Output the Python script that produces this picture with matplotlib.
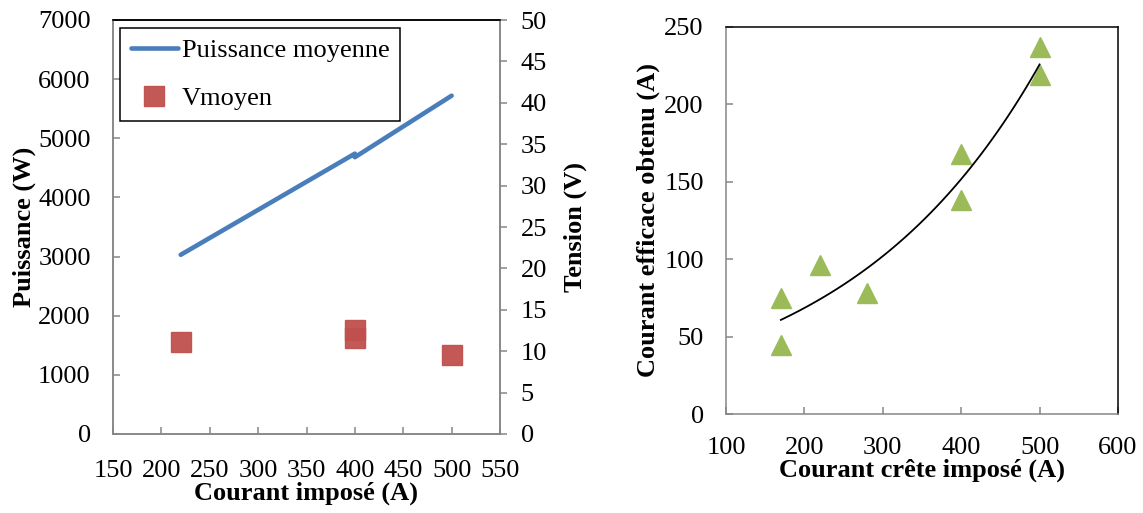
import numpy as np
import matplotlib
matplotlib.use("Agg")
import matplotlib.pyplot as plt

plt.rcParams['font.family'] = ['Liberation Serif', 'DejaVu Serif']
plt.rcParams['font.size'] = 19

# Données - graphique de gauche
courant = [220, 400, 400, 500]
puissance = [3030, 4740, 4680, 5720]
v_courant = [220, 400, 400, 500]
vmoyen = [11.1, 12.6, 11.6, 9.6]

# Données - graphique de droite
courant_crete = [170, 170, 220, 280, 400, 400, 500, 500]
courant_eff = [75, 45, 96, 78, 168, 138, 237, 219]

GRIS = '#868686'
BLEU = '#4A7EBB'
ROUGE = '#C0504D'
VERT = '#9BBB59'

fig = plt.figure(figsize=(11.43, 5.13), dpi=100)
fig.patch.set_facecolor('white')

# ---- Graphique de gauche ----
ax1 = fig.add_axes([113/1143, 79/513, 387/1143, 414/513])
ax2 = ax1.twinx()

l1, = ax1.plot(courant, puissance, color=BLEU, lw=3.3, solid_capstyle='round',
               label='Puissance moyenne')
s1, = ax2.plot(v_courant, vmoyen, 's', color=ROUGE, ms=14.4, mec=ROUGE,
               alpha=0.95, label='Vmoyen')

ax1.set_xlim(150, 550)
ax1.set_ylim(0, 7000)
ax2.set_ylim(0, 50)
ax1.set_xticks(np.arange(150, 551, 50))
ax1.set_yticks(np.arange(0, 7001, 1000))
ax2.set_yticks(np.arange(0, 51, 5))

for sp in ['left', 'bottom', 'right']:
    ax1.spines[sp].set_color(GRIS)
    ax2.spines[sp].set_color(GRIS)
ax1.spines['top'].set_color('black')
ax2.spines['top'].set_color('black')
for sp in ax1.spines.values():
    sp.set_linewidth(1.1)
for sp in ax2.spines.values():
    sp.set_linewidth(1.1)

ax1.tick_params(axis='x', direction='in', length=5, width=1.1, color=GRIS, pad=19)
ax1.tick_params(axis='y', direction='in', length=5, width=1.1, color=GRIS, pad=16)
ax2.tick_params(axis='y', direction='out', length=5, width=1.1, color=GRIS, pad=10)

ax1.set_xlabel('Courant imposé (A)', fontweight='bold')
ax1.xaxis.set_label_coords(0.5, -0.115)
ax1.set_ylabel('Puissance (W)', fontweight='bold')
ax1.yaxis.set_label_coords(-0.20, 0.5)
ax2.set_ylabel('Tension (V)', fontweight='bold')
ax2.yaxis.set_label_coords(1.163, 0.5)

leg = ax2.legend(handles=[l1, s1], loc='upper left', bbox_to_anchor=(0.018, 0.981),
                 borderaxespad=0, fancybox=False, framealpha=1, edgecolor='black',
                 handlelength=1.8, handletextpad=0.15, labelspacing=0.95,
                 borderpad=0.4, fontsize=19)
leg.get_frame().set_linewidth(1.1)

# ---- Graphique de droite ----
ax3 = fig.add_axes([726/1143, 98.7/513, 392/1143, 387.6/513])

ax3.plot(courant_crete, courant_eff, '^', color=VERT, ms=14.4, mec=VERT)

# Courbe de tendance exponentielle
b, a = np.polyfit(courant_crete, np.log(courant_eff), 1)
xt = np.linspace(min(courant_crete), max(courant_crete), 100)
ax3.plot(xt, np.exp(a) * np.exp(b * xt), color='black', lw=1.3)

ax3.set_xlim(100, 600)
ax3.set_ylim(0, 250)
ax3.set_xticks(np.arange(100, 601, 100))
ax3.set_yticks(np.arange(0, 251, 50))

ax3.spines['left'].set_color(GRIS)
ax3.spines['bottom'].set_color(GRIS)
ax3.spines['top'].set_color('black')
ax3.spines['right'].set_color('black')
for sp in ax3.spines.values():
    sp.set_linewidth(1.1)

ax3.tick_params(axis='x', direction='in', length=5, width=1.1, color=GRIS, pad=16)
ax3.tick_params(axis='y', direction='in', length=5, width=1.1, color=GRIS, pad=16)

ax3.set_xlabel('Courant crête imposé (A)', fontweight='bold')
ax3.xaxis.set_label_coords(0.5, -0.115)
ax3.set_ylabel('Courant efficace obtenu (A)', fontweight='bold')
ax3.yaxis.set_label_coords(-0.168, 0.5)

fig.savefig('out.png', dpi=100, facecolor='white')
